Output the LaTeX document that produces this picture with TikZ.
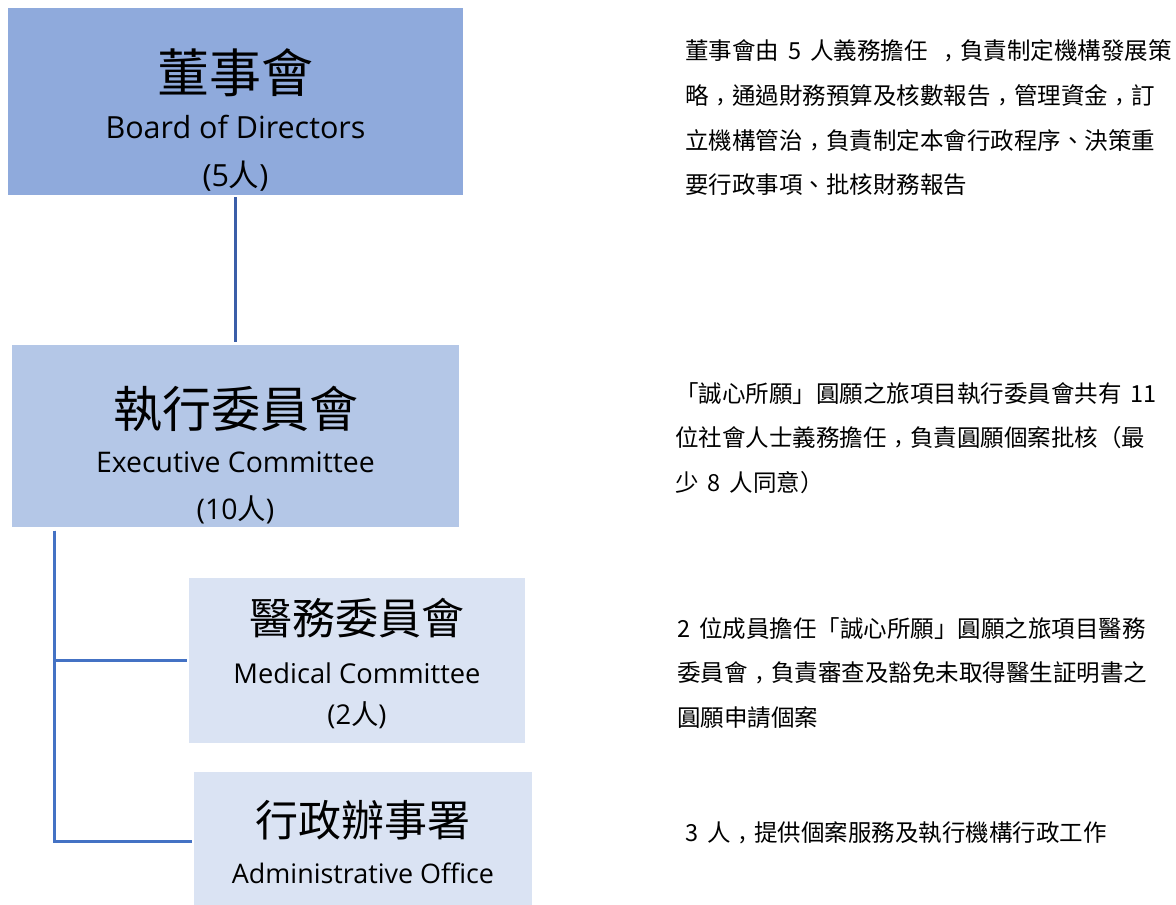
\documentclass[tikz,border=0pt]{standalone}
\usepackage{fontspec}
\setmainfont{Open Sans}
\newfontfamily\cjk[WordSpace=1.7]{Noto Sans CJK TC}
\usetikzlibrary{positioning}

\definecolor{boardblue}{HTML}{8FAADC}
\definecolor{execblue}{HTML}{B4C7E7}
\definecolor{unitblue}{HTML}{DAE3F3}
\definecolor{linkblue}{HTML}{3B5EA8}
\definecolor{treeblue}{HTML}{4472C4}

% centred full-width comma
\newcommand{\tccomma}{\makebox[1em][c]{\raisebox{0.12em}{,}}}

\begin{document}
\begin{tikzpicture}[x=1pt,y=1pt,
    orgbox/.style={inner sep=0pt, align=center},
    desc/.style={anchor=west, inner sep=0pt, align=left,
        font=\cjk\fontsize{23.5}{44.7}\selectfont},
    link/.style={draw=linkblue, line width=2.5pt},
    tree/.style={draw=treeblue, line width=3pt, line join=miter}]

\useasboundingbox (0,0) rectangle (1176,905);

% Board of directors
\node[orgbox,
    fill=boardblue,
    font=\fontsize{30.5}{47}\selectfont,
    minimum width=455pt,
    minimum height=187pt
] (board) at (235.5,803.5) {\rule{0pt}{80.5pt}{\cjk\fontsize{52}{52}\selectfont 董事會}\\[-1pt]
    Board of Directors\\[1pt] (5{\cjk 人})};

% Executive committee
\node[orgbox,
    fill=execblue,
    font=\fontsize{28.4}{47}\selectfont,
    below=150pt of board,
    minimum width=447pt,
    minimum height=182pt
] (exec) {\rule{0pt}{78.7pt}{\cjk\fontsize{49}{49}\selectfont 執行委員會}\\[-2pt]
    Executive Committee\\ (10{\cjk 人})};

% Medical committee
\node[orgbox,
    fill=unitblue,
    font=\fontsize{27.3}{47}\selectfont,
    below=50pt of exec, xshift=121.5pt,
    minimum width=336pt,
    minimum height=165pt
] (med) {\rule{0pt}{43.7pt}{\cjk\fontsize{43}{43}\selectfont 醫務委員會}\\[2pt]
    Medical Committee\\[-6pt] (2{\cjk 人})};

% Administrative office
\node[orgbox,
    fill=unitblue,
    font=\fontsize{26.9}{47}\selectfont,
    below=29pt of med, xshift=6pt,
    minimum width=338pt,
    minimum height=138pt
] (adm) {\rule{0pt}{37pt}{\cjk\fontsize{43}{43}\selectfont 行政辦事署}\\
    Administrative Office};

% Descriptions
\node[desc] (boarddesc) at (685,787) {董事會由 5 人義務擔任 \tccomma 負責制定機構發展策\\
    略\tccomma 通過財務預算及核數報告\tccomma 管理資金\tccomma 訂\\
    立機構管治\tccomma 負責制定本會行政程序、決策重\\
    要行政事項、批核財務報告};

\node[desc] (execdesc) at (675,467) {「誠心所願」圓願之旅項目執行委員會共有 11\\
    位社會人士義務擔任\tccomma 負責圓願個案批核（最\\
    少 8 人同意）};

\node[desc] (meddesc) at (677,232) {2 位成員擔任「誠心所願」圓願之旅項目醫務\\
    委員會\tccomma 負責審查及豁免未取得醫生証明書之\\
    圓願申請個案};

\node[desc] (admdesc) at (685,72) {3 人\tccomma 提供個案服務及執行機構行政工作};

% Lines
\draw[link, shorten <=2pt, shorten >=3pt] (board) -- (exec);

\coordinate (trunk) at ([xshift=43pt,yshift=-3pt]exec.south west);
\draw[tree, shorten >=2pt] (trunk) |- (med.west);
\draw[tree, shorten >=2pt] (trunk) |- (adm.west);

\end{tikzpicture}
\end{document}
